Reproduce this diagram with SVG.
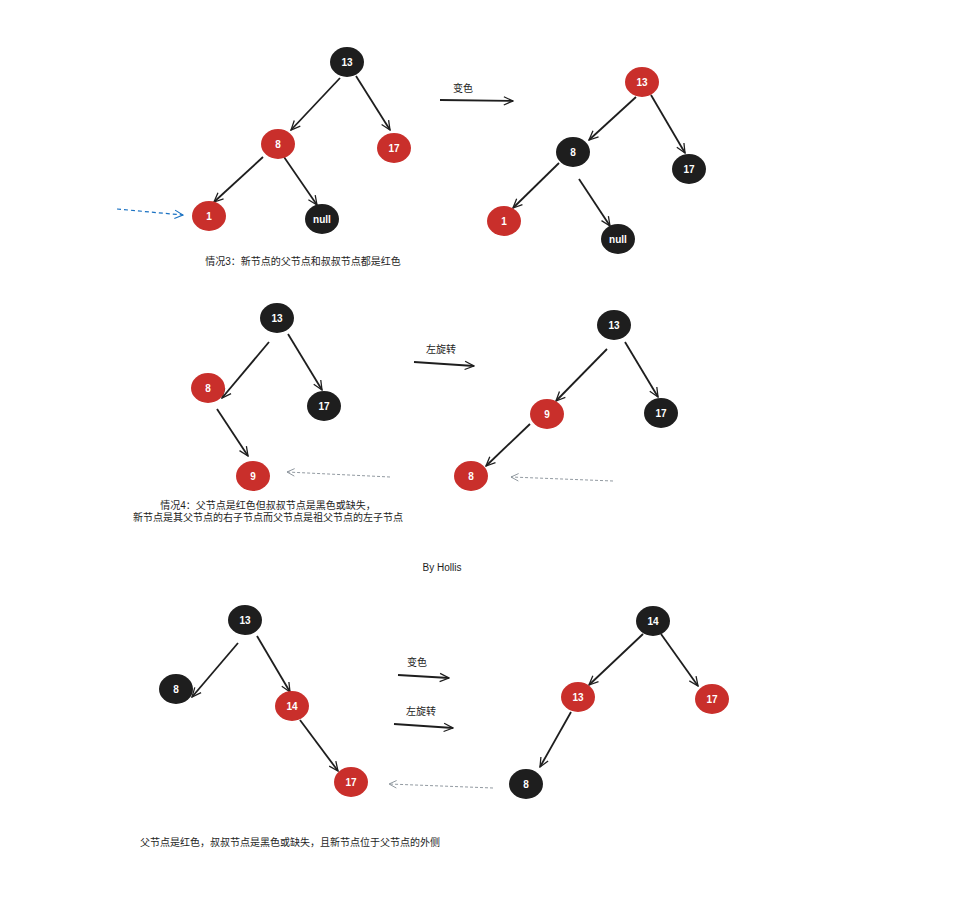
<svg xmlns="http://www.w3.org/2000/svg" width="966" height="901" viewBox="0 0 966 901">
<defs>
<marker id="ah" viewBox="0 0 12 12" refX="11" refY="6" markerWidth="11" markerHeight="11" markerUnits="userSpaceOnUse" orient="auto">
<path d="M1,1.5 L11,6 L1,10.5" fill="none" stroke="#1e1e1e" stroke-width="1.4"/>
</marker>
<marker id="ahb" viewBox="0 0 12 12" refX="11" refY="6" markerWidth="10" markerHeight="10" markerUnits="userSpaceOnUse" orient="auto">
<path d="M1,1 L11,6 L1,11" fill="none" stroke="#1971c2" stroke-width="1.3"/>
</marker>
<marker id="ahg" viewBox="0 0 12 12" refX="11" refY="6" markerWidth="9" markerHeight="9" markerUnits="userSpaceOnUse" orient="auto">
<path d="M1,1 L11,6 L1,11" fill="none" stroke="#868e96" stroke-width="1.2"/>
</marker>
</defs>
<style>
.r{fill:#c92f2b}
.b{fill:#1e1e1e}
.nt{font-family:"Liberation Sans",Arial,sans-serif;font-size:10px;font-weight:bold;fill:#ffffff;text-anchor:middle;dominant-baseline:central}
.e{fill:none;stroke:#1e1e1e;stroke-width:1.8;marker-end:url(#ah)}
.blue{fill:none;stroke:#1971c2;stroke-width:1.2;stroke-dasharray:4 3;marker-end:url(#ahb)}
.gray{fill:none;stroke:#868e96;stroke-width:0.9;stroke-dasharray:3 2;marker-end:url(#ahg)}
.lbl{font-family:"Liberation Sans","Noto Sans CJK SC",sans-serif;font-size:10px;fill:#1e1e1e}
.c{text-anchor:middle}
</style>
<rect width="966" height="901" fill="#ffffff"/>

<g id="connectors">
<path class="e" d="M340,78 L291,130"/>
<path class="e" d="M356,76 L390,130"/>
<path class="e" d="M263,157 L214,202"/>
<path class="e" d="M284,157 L317,205"/>
<path class="blue" d="M117,209 L183,215"/>
<path class="e" d="M440,100 L513,101"/>

<path class="e" d="M636,97 L589,140"/>
<path class="e" d="M651,95 L685,153"/>
<path class="e" d="M559,163 L513,208"/>
<path class="e" d="M579,179 L610,226"/>

<path class="e" d="M269,342 L222,398"/>
<path class="e" d="M288,334 L322,390"/>
<path class="e" d="M217,409 L248,456"/>
<path class="gray" d="M390,477 L287,472"/>
<path class="e" d="M414,362 L474,366"/>

<path class="e" d="M607,349 L556,401"/>
<path class="e" d="M625,342 L658,397"/>
<path class="e" d="M530,424 L486,466"/>
<path class="gray" d="M613,481 L511,477"/>

<path class="e" d="M238,643 L192,697"/>
<path class="e" d="M257,636 L290,692"/>
<path class="e" d="M300,720 L338,771"/>
<path class="gray" d="M493,788 L389,784"/>
<path class="e" d="M398,675 L449,678"/>
<path class="e" d="M394,724 L453,728"/>

<path class="e" d="M643,634 L589,685"/>
<path class="e" d="M661,634 L698,686"/>
<path class="e" d="M571,712 L540,767"/>
</g>

<g id="t1-13"><ellipse class="b" cx="347" cy="62" rx="17" ry="15"/><text class="nt" x="347" y="62">13</text></g>
<g id="t1-8"><ellipse class="r" cx="278" cy="144" rx="17" ry="15"/><text class="nt" x="278" y="144">8</text></g>
<g id="t1-17"><ellipse class="r" cx="394" cy="148" rx="17" ry="15"/><text class="nt" x="394" y="148">17</text></g>
<g id="t1-1"><ellipse class="r" cx="209" cy="216" rx="17" ry="15"/><text class="nt" x="209" y="216">1</text></g>
<g id="t1-null"><ellipse class="b" cx="322" cy="219" rx="17" ry="15"/><text class="nt" x="322" y="219">null</text></g>

<g id="t2-13"><ellipse class="r" cx="642" cy="82" rx="17" ry="15"/><text class="nt" x="642" y="82">13</text></g>
<g id="t2-8"><ellipse class="b" cx="573" cy="152" rx="17" ry="15"/><text class="nt" x="573" y="152">8</text></g>
<g id="t2-17"><ellipse class="b" cx="689" cy="169" rx="17" ry="15"/><text class="nt" x="689" y="169">17</text></g>
<g id="t2-1"><ellipse class="r" cx="504" cy="221" rx="17" ry="15"/><text class="nt" x="504" y="221">1</text></g>
<g id="t2-null"><ellipse class="b" cx="618" cy="239" rx="17" ry="15"/><text class="nt" x="618" y="239">null</text></g>

<g id="t3-13"><ellipse class="b" cx="277" cy="318" rx="17" ry="15"/><text class="nt" x="277" y="318">13</text></g>
<g id="t3-8"><ellipse class="r" cx="208" cy="388" rx="17" ry="15"/><text class="nt" x="208" y="388">8</text></g>
<g id="t3-17"><ellipse class="b" cx="324" cy="406" rx="17" ry="15"/><text class="nt" x="324" y="406">17</text></g>
<g id="t3-9"><ellipse class="r" cx="253" cy="476" rx="17" ry="15"/><text class="nt" x="253" y="476">9</text></g>

<g id="t4-13"><ellipse class="b" cx="614" cy="325" rx="17" ry="15"/><text class="nt" x="614" y="325">13</text></g>
<g id="t4-9"><ellipse class="r" cx="547" cy="414" rx="17" ry="15"/><text class="nt" x="547" y="414">9</text></g>
<g id="t4-17"><ellipse class="b" cx="661" cy="413" rx="17" ry="15"/><text class="nt" x="661" y="413">17</text></g>
<g id="t4-8"><ellipse class="r" cx="471" cy="476" rx="17" ry="15"/><text class="nt" x="471" y="476">8</text></g>

<g id="t5-13"><ellipse class="b" cx="245" cy="620" rx="17" ry="15"/><text class="nt" x="245" y="620">13</text></g>
<g id="t5-8"><ellipse class="b" cx="176" cy="689" rx="17" ry="15"/><text class="nt" x="176" y="689">8</text></g>
<g id="t5-14"><ellipse class="r" cx="292" cy="706" rx="17" ry="15"/><text class="nt" x="292" y="706">14</text></g>
<g id="t5-17"><ellipse class="r" cx="351" cy="782" rx="17" ry="15"/><text class="nt" x="351" y="782">17</text></g>

<g id="t6-14"><ellipse class="b" cx="653" cy="621" rx="17" ry="15"/><text class="nt" x="653" y="621">14</text></g>
<g id="t6-13"><ellipse class="r" cx="578" cy="697" rx="17" ry="15"/><text class="nt" x="578" y="697">13</text></g>
<g id="t6-17"><ellipse class="r" cx="712" cy="699" rx="17" ry="15"/><text class="nt" x="712" y="699">17</text></g>
<g id="t6-8"><ellipse class="b" cx="526" cy="784" rx="17" ry="15"/><text class="nt" x="526" y="784">8</text></g>

<g id="labels">
<text class="lbl c" x="463" y="92">变色</text>
<text class="lbl c" x="303" y="265">情况3：新节点的父节点和叔叔节点都是红色</text>
<text class="lbl c" x="441" y="353">左旋转</text>
<text class="lbl c" x="268" y="509">情况4：父节点是红色但叔叔节点是黑色或缺失，</text>
<text class="lbl c" x="268" y="521">新节点是其父节点的右子节点而父节点是祖父节点的左子节点</text>
<text class="lbl c" x="442" y="571">By Hollis</text>
<text class="lbl c" x="417" y="666">变色</text>
<text class="lbl c" x="421" y="715">左旋转</text>
<text class="lbl c" x="290" y="846">父节点是红色，叔叔节点是黑色或缺失，且新节点位于父节点的外侧</text>
</g>
</svg>
